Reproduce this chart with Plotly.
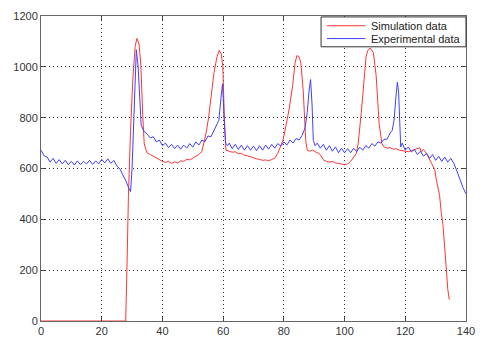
import plotly.graph_objects as go

# Experimental data (blue)
exp_x = [0, 1, 2, 3, 4, 5, 6, 7, 8, 9, 10, 11, 12, 13, 14, 15, 16, 17, 18, 19, 20, 21, 22, 23, 24,
         25, 26, 27, 28, 29, 29.5, 30, 30.5, 31, 31.4, 32, 32.5, 33, 34, 35, 36, 37, 38, 39, 40,
         41, 42, 43, 44, 45, 46, 47, 48, 49, 50, 51, 52, 53, 54, 55, 56, 57, 58, 58.6, 59.3, 59.8,
         60.3, 60.8, 61.5, 62, 63, 64, 65, 66, 67, 68, 69, 70, 71, 72, 73, 74, 75, 76, 77, 78, 79,
         80, 81, 82, 83, 84, 85, 86, 87, 87.7, 88.3, 88.8, 89.3, 89.7, 90.3, 91, 92, 93, 94, 95,
         96, 97, 98, 99, 100, 101, 102, 103, 104, 105, 106, 107, 108, 109, 110, 111, 112, 113,
         114, 115, 115.7, 116.3, 116.9, 117.4, 117.8, 118.2, 118.5, 119, 120, 121, 122, 123, 124,
         125, 126, 127, 128, 129, 130, 131, 132, 133, 134, 135, 136, 137, 138, 139, 140]
exp_y = [672, 650, 645, 625, 640, 620, 635, 618, 632, 615, 628, 614, 630, 615, 628, 618, 632, 616,
         630, 618, 636, 622, 638, 620, 632, 610, 598, 575, 550, 520, 509, 600, 800, 980, 1067, 1000,
         860, 770, 745, 735, 720, 725, 705, 712, 690, 700, 682, 695, 678, 692, 676, 692, 680, 698,
         684, 705, 692, 712, 705, 728, 725, 750, 770, 790, 880, 933, 800, 700, 690, 700, 678, 695,
         675, 692, 672, 690, 672, 688, 670, 690, 672, 692, 676, 695, 680, 698, 688, 705, 692, 712,
         700, 718, 712, 730, 760, 820, 905, 950, 850, 711, 690, 700, 680, 695, 672, 690, 668, 685,
         662, 680, 662, 678, 662, 680, 666, 684, 672, 690, 680, 698, 688, 705, 700, 715, 715, 740,
         750, 790, 880, 940, 900, 750, 685, 700, 672, 685, 665, 675, 655, 668, 648, 660, 640, 655,
         632, 648, 628, 645, 625, 640, 620, 590, 555, 525, 500]

# Simulation data (red)
sim_x = [0, 27.9, 28.3, 28.8, 29.5, 30.2, 31, 31.6, 32.3, 32.9, 33.5, 34, 34.5, 35, 36, 37, 38, 39,
         40, 41, 42, 43, 44, 45, 46, 47, 48, 49, 50, 51, 52, 53, 53.5, 54.4, 55.2, 56, 57, 58, 58.7,
         59.4, 59.9, 60.4, 60.9, 62, 63, 64, 65, 66, 67, 68, 69, 70, 71, 72, 73, 74, 75, 76, 77, 78,
         79, 79.7, 80.8, 81.8, 82.9, 83.7, 84.3, 85, 85.6, 86.4, 87.2, 87.7, 88.5, 89.5, 90.5, 91.5,
         92.5, 93, 94, 95, 96, 97, 98, 99, 100, 101, 102, 103, 103.9, 104.5, 105, 105.5, 106.1,
         106.6, 107.1, 107.7, 108.4, 109.5, 110.4, 110.9, 111.4, 112.3, 113, 114, 115, 116, 117,
         118, 119, 120, 121, 122, 123, 124, 124.8, 125.3, 125.9, 126.5, 127, 127.5, 128.6, 129.7,
         130.2, 130.8, 131.3, 131.8, 132.4, 132.9, 133.5, 134, 134.5]
sim_y = [0, 0, 200, 494, 749, 940, 1080, 1112, 1090, 1005, 814, 699, 675, 661, 655, 648, 640, 632,
         628, 624, 628, 620, 626, 622, 630, 628, 636, 634, 642, 648, 655, 668, 690, 740, 800, 876,
         978, 1040, 1065, 1050, 1000, 800, 672, 668, 664, 666, 658, 660, 652, 650, 645, 641, 638,
         636, 632, 634, 630, 636, 640, 660, 690, 711, 774, 838, 927, 1016, 1044, 1040, 1016, 902,
         711, 672, 668, 672, 665, 660, 645, 634, 628, 625, 628, 622, 620, 618, 615, 618, 628, 645,
         660, 700, 749, 820, 902, 980, 1042, 1065, 1074, 1055, 966, 870, 774, 698, 685, 680, 682,
         676, 678, 672, 670, 668, 666, 670, 675, 679, 682, 665, 675, 668, 655, 647, 622, 596, 558,
         520, 494, 431, 380, 303, 201, 125, 84]

series_names = ["Simulation data", "Experimental data"]
series_colors = ["#ff3535", "#4040ff"]

fig = go.Figure()
fig.add_trace(go.Scatter(x=sim_x, y=sim_y, mode="lines", name=series_names[0],
                         line=dict(color=series_colors[0], width=1), showlegend=False))
fig.add_trace(go.Scatter(x=exp_x, y=exp_y, mode="lines", name=series_names[1],
                         line=dict(color=series_colors[1], width=1), showlegend=False))

axis_common = dict(
    showline=True, linecolor="#666666", linewidth=1, mirror="ticks",
    ticks="inside", ticklen=4, tickcolor="#444444",
    showgrid=True, gridcolor="#333333", griddash="1px,3px", gridwidth=1,
    zeroline=False,
    tickfont=dict(family="Liberation Sans, Arial, sans-serif", size=11, color="#333333"),
)

# Manual compact legend (MATLAB style) in paper coordinates
shapes = [dict(type="rect", xref="paper", yref="paper", x0=0.659, x1=1.0, y0=0.899, y1=0.997,
               line=dict(color="#333333", width=1), fillcolor="white", layer="above")]
annotations = []
legend_rows = [0.968, 0.926]
for name, color, yy in zip(series_names, series_colors, legend_rows):
    shapes.append(dict(type="line", xref="paper", yref="paper", x0=0.673, x1=0.763, y0=yy, y1=yy,
                       line=dict(color=color, width=1), layer="above"))
    annotations.append(dict(xref="paper", yref="paper", x=0.775, y=yy, text=name, showarrow=False,
                            xanchor="left", yanchor="middle", borderpad=0,
                            font=dict(family="Liberation Sans, Arial, sans-serif", size=11,
                                      color="#222222")))

fig.update_layout(
    width=485, height=347,
    margin=dict(l=41, r=10, t=12, b=21),
    paper_bgcolor="white", plot_bgcolor="white",
    xaxis=dict(range=[0, 140], tickvals=[0, 20, 40, 60, 80, 100, 120, 140], **axis_common),
    yaxis=dict(range=[0, 1200], tickvals=[0, 200, 400, 600, 800, 1000, 1200], **axis_common),
    showlegend=False,
    shapes=shapes,
    annotations=annotations,
)

fig.write_html("out.html")
